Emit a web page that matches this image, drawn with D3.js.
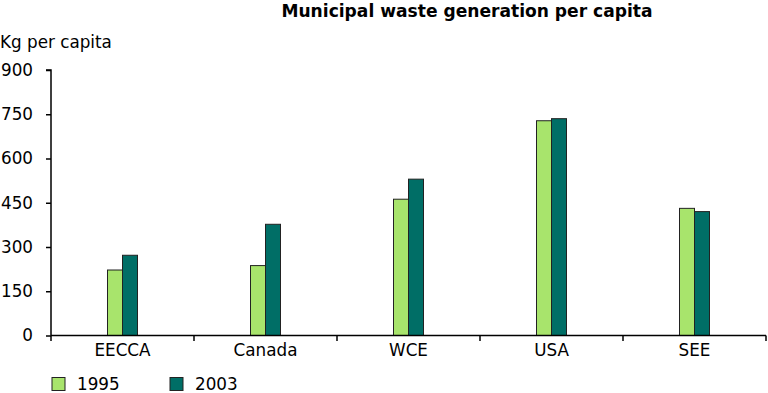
<!DOCTYPE html>
<html><head><meta charset="utf-8">
<script src="https://cdn.jsdelivr.net/npm/d3@7"></script>
<style>body{margin:0;background:#fff;}svg{display:block;font-family:"DejaVu Sans",Verdana,sans-serif;}</style>
</head><body><svg id="c" width="768" height="393"></svg>
<script>
const categories = ["EECCA","Canada","WCE","USA","SEE"];
const years = ["1995","2003"];
const values1995 = [222, 237, 462, 728, 431];
const values2003 = [272, 377, 530, 735, 420];
const yTicks = [0,150,300,450,600,750,900];
const colors = ["#a8e46c","#006e66"];
const FS = 16.8;

const svg = d3.select("#c");
const x0 = d3.scaleBand().domain(categories).range([51,766]);
const x1 = d3.scaleBand().domain(years).range([-15,15]);
const y = d3.scaleLinear().domain([0,900]).range([335.5,70]);

svg.append("text").attr("x",467).attr("y",17).attr("text-anchor","middle")
  .attr("font-weight","bold").attr("font-size",17.1).text("Municipal waste generation per capita");
svg.append("text").attr("x",0).attr("y",48).attr("font-size",FS).text("Kg per capita");

const yAxis = svg.append("g").attr("transform","translate(51,0)")
  .call(d3.axisLeft(y).tickValues(yTicks).tickSize(5).tickPadding(13));
yAxis.selectAll("text").attr("font-size",FS).attr("fill","#000").attr("font-family","DejaVu Sans, Verdana, sans-serif");
yAxis.selectAll("line,path").attr("stroke","#000").attr("stroke-width",1.5);
yAxis.select(".domain").attr("d","M-5,70H0V335.5");

const data = categories.map((c,i)=>({c, v:[values1995[i], values2003[i]]}));
const g = svg.append("g");
data.forEach(d=>{
  d.v.forEach((v,j)=>{
    g.append("rect")
      .attr("x", x0(d.c)+x0.bandwidth()/2 + x1(years[j]))
      .attr("y", y(v))
      .attr("width", x1.bandwidth())
      .attr("height", y(0)-y(v))
      .attr("fill", colors[j]).attr("stroke","#222").attr("stroke-width",1);
  });
});

const xAxis = svg.append("g").attr("transform","translate(0,335.5)")
  .call(d3.axisBottom(x0).tickSize(0).tickPadding(9));
xAxis.select(".domain").attr("stroke","#000").attr("stroke-width",1.5).attr("d","M51,0H766");
xAxis.selectAll("text").attr("font-size",FS).attr("fill","#000").attr("font-family","DejaVu Sans, Verdana, sans-serif");
const bounds = categories.map(c=>x0(c)).concat([766]);
svg.append("g").selectAll("line").data(bounds).join("line")
  .attr("x1",d=>d).attr("x2",d=>d).attr("y1",335.5).attr("y2",341)
  .attr("stroke","#000").attr("stroke-width",1.5);

const legX = [52, 170];
years.forEach((yr,j)=>{
  svg.append("rect").attr("x",legX[j]).attr("y",377.5).attr("width",13).attr("height",13)
    .attr("fill",colors[j]).attr("stroke","#222");
  svg.append("text").attr("x",legX[j]+25).attr("y",390).attr("font-size",FS).text(yr);
});
</script></body></html>
